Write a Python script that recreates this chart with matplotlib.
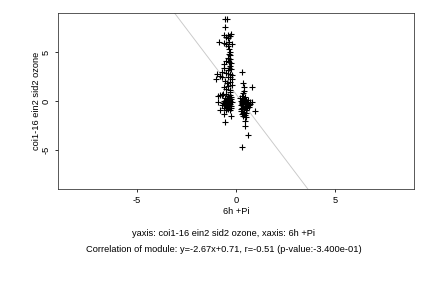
import matplotlib
matplotlib.use("Agg")
import matplotlib.pyplot as plt
import numpy as np

plt.rcParams['font.family'] = ['Liberation Sans', 'DejaVu Sans']

# cluster A (left column)
xa = [-0.56, -0.46, -0.54, -0.62, -0.42, -0.26, -0.30, -0.50, -0.38,
      -0.84, -0.60, -0.48, -0.34, -0.22, -0.40, -0.35, -0.30, -0.36, -0.28,
      -0.42, -0.32, -0.48, -0.36, -0.27, -0.58, -0.30, -0.34, -0.24, -0.42,
      -0.60, -0.68, -0.50, -0.32, -0.22, -0.28, -0.40, -0.22,
      -1.00, -0.95, -0.80, -0.70,
      -0.56, -0.46, -0.30, -0.22, -0.38, -0.60, -0.48, -0.30,
      -0.70, -0.90, -0.78, -0.66,
      -0.30, -0.50, -0.40, -0.25, -0.55, -0.35, -0.45, -0.60, -0.30, -0.20,
      -0.50, -0.40, -0.65, -0.28, -0.55, -0.35, -0.45, -0.25, -0.60, -0.38,
      -0.50, -0.30, -0.90, -0.78, -0.60, -0.25, -0.56, -0.68,
      -0.44, -0.33, -0.52, -0.27, -0.41, -0.58, -0.36, -0.47, -0.23, -0.31]
ya = [8.35, 8.35, 7.60, 6.70, 6.70, 6.85, 6.60, 6.50, 6.40,
      6.00, 5.90, 5.85, 6.00, 5.80, 5.60, 5.30, 5.00, 4.80, 4.70,
      4.40, 4.30, 4.10, 4.00, 3.90, 3.80, 3.60, 3.40, 3.30, 3.20,
      3.40, 3.00, 2.90, 2.80, 2.70, 2.50, 2.40, 2.20,
      2.25, 2.75, 2.60, 2.40,
      2.00, 1.80, 1.90, 1.60, 1.50, 1.40, 1.20, 1.10,
      0.60, 0.50, 0.60, 0.70,
      0.90, 0.70, 0.50, 0.40, 0.30, 0.20, 0.10, 0.00, 0.00, -0.10,
      -0.15, -0.30, -0.20, -0.35, -0.40, -0.50, -0.60, -0.70, -0.70, -0.80,
      -0.90, -0.95, -0.10, -0.90, -1.30, -1.50, -2.20, -0.40,
      0.25, -0.20, -0.45, 0.15, -0.05, -0.25, 0.35, -0.75, -0.55, 0.60]

# cluster B (right column)
xb = [0.32, 0.38, 0.40, 0.42, 0.36, 0.84,
      0.30, 0.45, 0.35, 0.50, 0.25, 0.40, 0.55, 0.30, 0.45, 0.60, 0.70, 0.80,
      0.25, 0.38, 0.50, 0.65, 0.30, 0.42, 0.55, 0.28, 0.40, 0.30, 0.45, 0.35,
      0.50, 0.96, 0.48, 0.46, 0.60, 0.30, 0.72, 0.62, 0.20,
      0.33, 0.47, 0.58, 0.27, 0.52, 0.37, 0.43, 0.66, 0.29, 0.51]
yb = [3.00, 1.80, 1.40, 1.00, 0.80, 1.40,
      0.50, 0.40, 0.20, 0.10, 0.00, -0.05, -0.10, -0.20, -0.30, -0.25, -0.15, -0.10,
      -0.40, -0.50, -0.55, -0.45, -0.70, -0.80, -0.75, -1.00, -1.10, -1.30, -1.40, -1.55,
      -1.60, -1.00, -2.10, -2.55, -3.50, -4.66, -0.30, 0.05, 0.30,
      -0.35, -0.65, -0.35, -0.85, -0.95, -1.20, 0.15, -0.60, -0.15, -1.25]

slope, intercept = -2.67, 0.71
xlim = (-9, 9)
ylim = (-9, 9)
xticks = [-5, 0, 5]
yticks = [-5, 0, 5]

FS = 9.2

fig = plt.figure(figsize=(6, 4), dpi=72)
ax = fig.add_axes([0.134, 0.344, 0.824, 0.611])

xs = np.array(xlim)
ax.plot(xs, slope * xs + intercept, color='#c8c8c8', lw=0.9, zorder=1)
ax.scatter(xa + xb, ya + yb, marker='+', color='black', s=28, linewidths=1.1, zorder=2)

ax.set_xlim(*xlim)
ax.set_ylim(*ylim)
ax.set_xticks(xticks)
ax.set_yticks(yticks)
ax.set_xticklabels([str(t) for t in xticks], fontsize=FS)
ax.set_yticklabels([str(t) for t in yticks], fontsize=FS, rotation=90, va='center')
ax.tick_params(length=3, width=0.8, pad=4)
for s in ax.spines.values():
    s.set_linewidth(0.8)
    s.set_color('#333333')

ax.set_xlabel('6h +Pi', fontsize=FS, labelpad=2)
ax.set_ylabel('coi1-16 ein2 sid2 ozone', fontsize=FS, labelpad=1)

fig.text(224 / 432, 1 - 233 / 288, 'yaxis: coi1-16 ein2 sid2 ozone, xaxis: 6h +Pi',
         ha='center', va='center', fontsize=FS)
fig.text(224 / 432, 1 - 249 / 288,
         'Correlation of module: y=-2.67x+0.71, r=-0.51 (p-value:-3.400e-01)',
         ha='center', va='center', fontsize=FS)

fig.savefig('out.png', dpi=72)
